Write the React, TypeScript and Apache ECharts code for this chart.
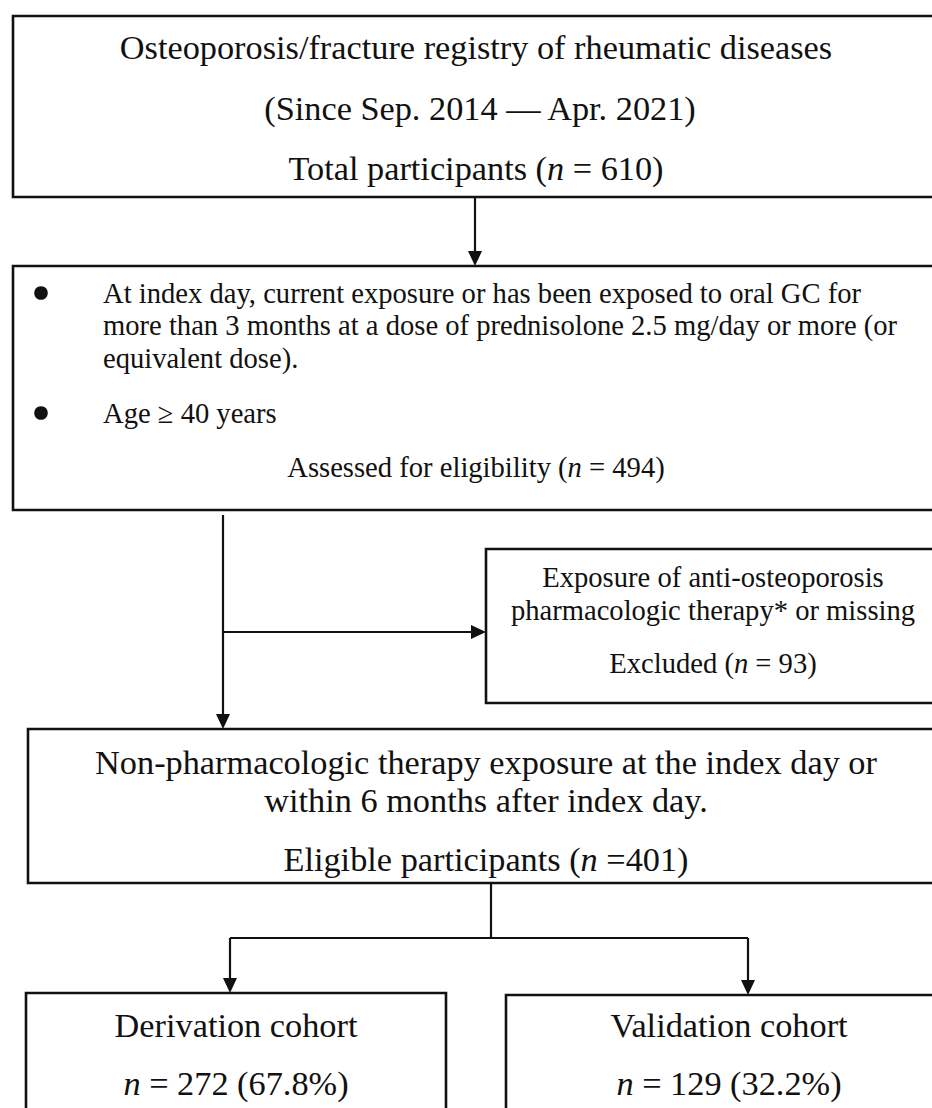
import React, { useEffect, useRef } from "react";
import * as echarts from "echarts";

// ---- data (texts and counts) ----
const registryLines = [
  "Osteoporosis/fracture registry of rheumatic diseases",
  "(Since Sep. 2014 \u2014 Apr. 2021)",
];
const totalN = 610;
const criteriaLines = [
  "At index day, current exposure or has been exposed to oral GC for",
  "more than 3 months at a dose of prednisolone 2.5 mg/day or more (or",
  "equivalent dose).",
];
const ageCriterion = "Age \u2265 40 years";
const assessedN = 494;
const exclusionLines = [
  "Exposure of anti-osteoporosis",
  "pharmacologic therapy* or missing",
];
const excludedN = 93;
const eligibleLines = [
  "Non-pharmacologic therapy exposure at the index day or",
  "within 6 months after index day.",
];
const eligibleN = 401;
const cohortNames = ["Derivation cohort", "Validation cohort"];
const cohortN = [272, 129];
const cohortPct = [67.8, 32.2];

const FONT = "'Liberation Serif', 'Times New Roman', serif";
const INK = "#111111";
const LW = 2.6;

function txt(text: string, x: number, y: number, size: number, align: string = "center") {
  return {
    type: "text",
    x,
    y,
    style: {
      text,
      fill: INK,
      fontFamily: FONT,
      fontSize: size,
      align,
      verticalAlign: "middle",
      textAlign: align,
      textVerticalAlign: "middle",
      rich: {
        i: { fontStyle: "italic", fontFamily: FONT, fontSize: size, fill: INK },
      },
    },
  };
}

function box(x: number, y: number, w: number, h: number) {
  return {
    type: "rect",
    shape: { x, y, width: w, height: h },
    style: { fill: "#fff", stroke: INK, lineWidth: LW },
  };
}

function seg(x1: number, y1: number, x2: number, y2: number) {
  return {
    type: "line",
    shape: { x1, y1, x2, y2 },
    style: { stroke: INK, lineWidth: 2.2 },
  };
}

function arrowDown(x: number, y1: number, yTip: number) {
  return [
    seg(x, y1, x, yTip - 12),
    {
      type: "polygon",
      shape: { points: [[x - 7, yTip - 15], [x + 7, yTip - 15], [x, yTip]] },
      style: { fill: INK },
    },
  ];
}

function arrowRight(x1: number, y: number, xTip: number) {
  return [
    seg(x1, y, xTip - 12, y),
    {
      type: "polygon",
      shape: { points: [[xTip - 15, y - 7], [xTip - 15, y + 7], [xTip, y]] },
      style: { fill: INK },
    },
  ];
}

export default function App() {
  const ref = useRef<HTMLDivElement>(null);

  useEffect(() => {
    document.body.style.margin = "0";
    if (!ref.current) return;
    const chart = echarts.init(ref.current, undefined, { renderer: "svg" });

    const elements: any[] = [];

    // Box 1: registry
    elements.push(box(13, 16, 927, 181));
    elements.push(txt(registryLines[0], 476, 47, 34.3));
    elements.push(txt(registryLines[1], 480, 108, 34.3));
    elements.push(txt(`Total participants ({i|n} = ${totalN})`, 476, 168, 34.3));

    // Arrow to box 2
    elements.push(...arrowDown(475, 197, 266));

    // Box 2: criteria
    elements.push(box(13, 266, 927, 244));
    elements.push({ type: "circle", shape: { cx: 41, cy: 293, r: 6.8 }, style: { fill: INK } });
    elements.push({ type: "circle", shape: { cx: 41, cy: 413, r: 6.8 }, style: { fill: INK } });
    elements.push(txt(criteriaLines[0], 103, 293, 28.6, "left"));
    elements.push(txt(criteriaLines[1], 103, 325, 28.6, "left"));
    elements.push(txt(criteriaLines[2], 103, 358, 28.6, "left"));
    elements.push(txt(ageCriterion, 103, 413, 28.6, "left"));
    elements.push(txt(`Assessed for eligibility ({i|n} = ${assessedN})`, 476, 467, 28.6));

    // Vertical flow and exclusion arrow
    elements.push(...arrowDown(223, 515, 729));
    elements.push(...arrowRight(223, 632, 486));

    // Exclusion box
    elements.push(box(486, 549, 454, 154));
    elements.push(txt(exclusionLines[0], 713, 577, 28.6));
    elements.push(txt(exclusionLines[1], 713, 610, 28.6));
    elements.push(txt(`Excluded ({i|n} = ${excludedN})`, 713, 663, 28.6));

    // Box 4: eligible
    elements.push(box(28, 729, 916, 154));
    elements.push(txt(eligibleLines[0], 486, 762, 34.3));
    elements.push(txt(eligibleLines[1], 486, 800, 34.3));
    elements.push(txt(`Eligible participants ({i|n} =${eligibleN})`, 486, 859, 34.3));

    // Split connector
    elements.push(seg(491, 883, 491, 938));
    elements.push(seg(230, 938, 748, 938));
    elements.push(...arrowDown(230, 938, 993));
    elements.push(...arrowDown(748, 938, 995));

    // Cohort boxes
    elements.push(box(26, 993, 420, 200));
    elements.push(box(506, 995, 450, 200));
    const cx = [236, 729];
    cohortNames.forEach((name, k) => {
      elements.push(txt(name, cx[k], 1025, 34.3));
      elements.push(txt(`{i|n} = ${cohortN[k]} (${cohortPct[k].toFixed(1)}%)`, cx[k], 1083, 34.3));
    });

    chart.setOption({
      animation: false,
      backgroundColor: "#ffffff",
      graphic: { elements },
    });

    return () => chart.dispose();
  }, []);

  return <div ref={ref} style={{ width: 932, height: 1108 }} />;
}
